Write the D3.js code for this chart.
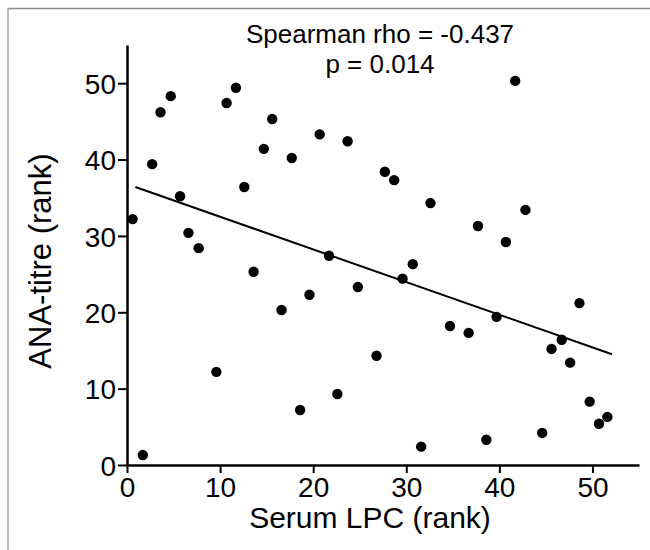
<!DOCTYPE html>
<html>
<head>
<meta charset="utf-8">
<script src="https://cdn.jsdelivr.net/npm/d3@7"></script>
<style>
  html, body { margin: 0; padding: 0; background: #fff; }
  svg { display: block; }
  text { font-family: "Liberation Sans", Arial, sans-serif; fill: #000; }
</style>
</head>
<body>
<script>
// Serum LPC rank (x) and ANA-titre rank (y)
const lpcRank = [0.6, 1.7, 2.7, 3.6, 4.7, 5.7, 6.6, 7.7, 9.6, 10.7, 11.7, 12.6, 13.6, 14.7, 15.6, 16.6, 17.7, 18.6, 19.6, 20.7, 21.7, 22.6, 23.7, 24.8, 26.8, 27.7, 28.7, 29.6, 30.7, 31.6, 32.6, 34.7, 36.7, 37.7, 38.6, 39.7, 40.7, 41.7, 42.8, 44.6, 45.6, 46.7, 47.6, 48.6, 49.7, 50.7, 51.6];
const anaRank = [32.2, 1.3, 39.4, 46.2, 48.3, 35.2, 30.4, 28.4, 12.2, 47.4, 49.4, 36.4, 25.3, 41.4, 45.3, 20.3, 40.2, 7.2, 22.3, 43.3, 27.4, 9.3, 42.4, 23.3, 14.3, 38.4, 37.3, 24.4, 26.3, 2.4, 34.3, 18.2, 17.3, 31.3, 3.3, 19.4, 29.2, 50.3, 33.4, 4.2, 15.2, 16.4, 13.4, 21.2, 8.3, 5.4, 6.3];
// Fitted line end points
const fitX = [0.9, 52.1];
const fitY = [36.4, 14.5];
const xTicks = [0, 10, 20, 30, 40, 50];
const yTicks = [0, 10, 20, 30, 40, 50];
const statLines = ["Spearman rho = -0.437", "p = 0.014"];
const xTitle = "Serum LPC (rank)";
const yTitle = "ANA-titre (rank)";

const W = 650, H = 550;
const svg = d3.select("body").append("svg").attr("width", W).attr("height", H);

// frame
svg.append("line").attr("x1", 8).attr("x2", W).attr("y1", 8.5).attr("y2", 8.5)
  .attr("stroke", "#8c8c8c").attr("stroke-width", 1.5);
svg.append("line").attr("x1", 8).attr("x2", 8).attr("y1", 8).attr("y2", H)
  .attr("stroke", "#a8a8a8").attr("stroke-width", 1.5);

const x = d3.scaleLinear().domain([0, 55]).range([127, 639]);
const y = d3.scaleLinear().domain([0, 55]).range([465, 45]);

const xAxis = svg.append("g").attr("transform", `translate(0,${y(0)})`)
  .call(d3.axisBottom(x).tickValues(xTicks).tickSize(8).tickPadding(3).tickSizeOuter(0));
const yAxis = svg.append("g").attr("transform", `translate(${x(0)},0)`)
  .call(d3.axisLeft(y).tickValues(yTicks).tickSize(9).tickPadding(2).tickSizeOuter(0));

[xAxis, yAxis].forEach(g => {
  g.select(".domain").attr("stroke", "#000").attr("stroke-width", 2.5);
  g.selectAll(".tick line").attr("stroke", "#000").attr("stroke-width", 2);
  g.selectAll(".tick text").style("font-family", '"Liberation Sans", Arial, sans-serif')
    .style("font-size", "28px").attr("fill", "#000");
});
xAxis.selectAll(".tick text").attr("dy", "0.75em");
yAxis.selectAll(".tick text").attr("dy", "0.36em");

// fit line
svg.append("line")
  .attr("x1", x(fitX[0])).attr("y1", y(fitY[0]))
  .attr("x2", x(fitX[1])).attr("y2", y(fitY[1]))
  .attr("stroke", "#000").attr("stroke-width", 2);

// points
svg.append("g").selectAll("circle")
  .data(lpcRank.map((v, i) => [v, anaRank[i]]))
  .join("circle")
  .attr("cx", d => x(d[0])).attr("cy", d => y(d[1]))
  .attr("r", 5.2).attr("fill", "#000");

// stats text
svg.append("text").attr("x", 380).attr("y", 43).attr("text-anchor", "middle")
  .style("font-size", "26px").text(statLines[0]);
svg.append("text").attr("x", 380).attr("y", 73).attr("text-anchor", "middle")
  .style("font-size", "26px").text(statLines[1]);

// axis titles
svg.append("text").attr("x", 370).attr("y", 528).attr("text-anchor", "middle")
  .style("font-size", "30px").text(xTitle);
svg.append("text").attr("transform", `translate(51,261) rotate(-90)`)
  .attr("text-anchor", "middle").style("font-size", "31px").text(yTitle);
</script>
</body>
</html>
